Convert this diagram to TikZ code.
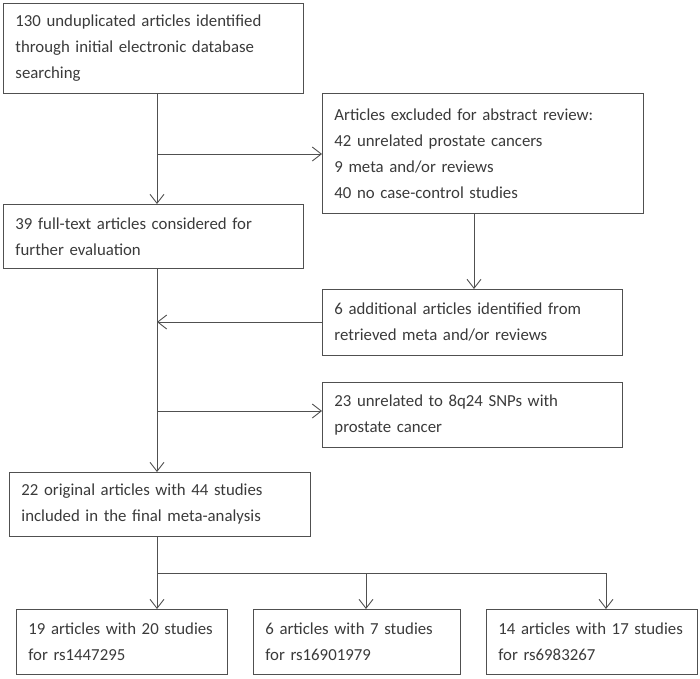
\documentclass[tikz,border=0pt]{standalone}
\usepackage{fontspec}
\setmainfont{Carlito}
\usetikzlibrary{arrows.meta}
\definecolor{linec}{HTML}{505050}
\definecolor{textc}{HTML}{3A3A3A}
\begin{document}
\begin{tikzpicture}[x=1pt,y=-1pt,
  box/.style={draw=linec, line width=0.9pt, anchor=north west, align=left,
    inner xsep=12pt, inner ysep=0pt, font=\fontsize{16.8}{26}\selectfont, text=textc},
  arr/.style={draw=linec, line width=0.9pt, -{Straight Barb[length=9pt,width=14pt]}},
  ln/.style={draw=linec, line width=0.9pt}]
\useasboundingbox (0,0) rectangle (700,678);
% boxes
\node[box, text width=276pt, minimum height=90pt] (b1) at (3,3)
  {130 unduplicated articles identified\\through initial electronic database\\searching};
\node[box, text width=297pt, minimum height=120pt] (b2) at (322,93)
  {Articles excluded for abstract review:\\42 unrelated prostate cancers\\9 meta and/or reviews\\40 no case-control studies};
\node[box, text width=276pt, minimum height=64pt] (b3) at (3,204)
  {39 full-text articles considered for\\further evaluation};
\node[box, text width=276pt, minimum height=66pt] (b4) at (322,289)
  {6 additional articles identified from\\retrieved meta and/or reviews};
\node[box, text width=276pt, minimum height=65pt] (b5) at (322,382)
  {23 unrelated to 8q24 SNPs with\\prostate cancer};
\node[box, text width=277pt, minimum height=64pt] (b6) at (9,472)
  {22 original articles with 44 studies\\included in the final meta-analysis};
\node[box, text width=187pt, minimum height=65pt] (b7) at (16,609)
  {\mbox{19 articles with 20 studies}\\for rs1447295};
\node[box, text width=183pt, minimum height=65pt] (b8) at (253,609)
  {\mbox{6 articles with 7 studies}\\for rs16901979};
\node[box, text width=187pt, minimum height=65pt] (b9) at (486,609)
  {\mbox{14 articles with 17 studies}\\for rs6983267};
% helper coordinates
\coordinate (m) at (157,0);
\coordinate (c2) at (474,0);
\coordinate (j1) at (157,154);
\coordinate (j2) at (157,322);
\coordinate (j3) at (157,411);
\coordinate (j4) at (157,573);
\coordinate (k2) at (366,573);
\coordinate (k3) at (606,573);
% connectors
\draw[arr] (b1.south -| m) -- (b3.north -| m);
\draw[arr] (j1) -- (j1 -| b2.west);
\draw[arr] (b2.south -| c2) -- (b4.north -| c2);
\draw[arr] (j2 -| b4.west) -- (j2);
\draw[arr] (b3.south -| m) -- (b6.north -| m);
\draw[arr] (j3) -- (j3 -| b5.west);
\draw[ln] (b6.south -| m) -- (j4) -- (k3);
\draw[arr] (j4) -- (b7.north -| m);
\draw[arr] (k2) -- (b8.north -| k2);
\draw[arr] (k3) -- (b9.north -| k3);
\end{tikzpicture}
\end{document}
